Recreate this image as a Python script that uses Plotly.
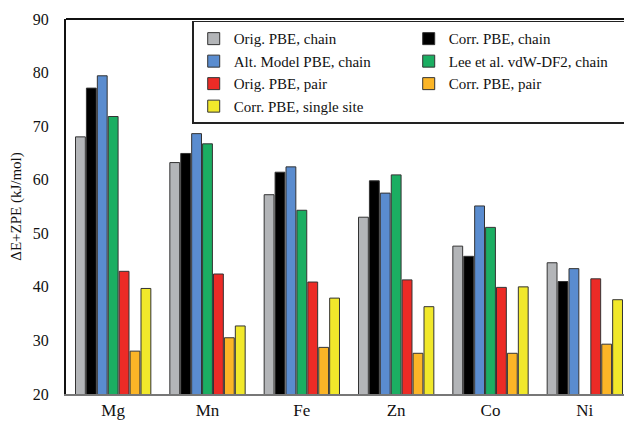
import plotly.graph_objects as go

metals = ["Mg", "Mn", "Fe", "Zn", "Co", "Ni"]

orig_pbe_chain = [68.0, 63.2, 57.2, 53.0, 47.6, 44.5]
corr_pbe_chain = [77.1, 64.9, 61.4, 59.8, 45.7, 41.0]
alt_model_chain = [79.4, 68.6, 62.4, 57.5, 55.1, 43.4]
lee_vdw_chain = [71.8, 66.7, 54.3, 60.9, 51.1, None]
orig_pbe_pair = [42.9, 42.4, 40.9, 41.3, 39.9, 41.5]
corr_pbe_pair = [28.0, 30.5, 28.7, 27.6, 27.6, 29.3]
corr_pbe_single = [39.7, 32.7, 37.9, 36.3, 40.0, 37.6]

series = [
    ("Orig. PBE, chain", orig_pbe_chain, "#b3b5b8"),
    ("Corr. PBE, chain", corr_pbe_chain, "#000000"),
    ("Alt. Model PBE, chain", alt_model_chain, "#5a8ccf"),
    ("Lee et al. vdW-DF2, chain", lee_vdw_chain, "#1bae62"),
    ("Orig. PBE, pair", orig_pbe_pair, "#ec2b26"),
    ("Corr. PBE, pair", corr_pbe_pair, "#fbb527"),
    ("Corr. PBE, single site", corr_pbe_single, "#f1e82b"),
]

fig = go.Figure()
for name, vals, col in series:
    fig.add_trace(go.Bar(x=metals, y=vals, name=name, marker_color=col,
                         marker_line=dict(color="#333333", width=1)))

font = "Liberation Serif, Times New Roman, serif"
# page body has an 8px margin, so the figure is 8px smaller than the window
fig.update_layout(
    width=624, height=417,
    margin=dict(l=58, r=0, t=11, b=31),
    paper_bgcolor="white", plot_bgcolor="white",
    barmode="group", bargap=0.19, bargroupgap=0.1,
    font=dict(family=font, size=16, color="#111111"),
    legend=dict(orientation="h", x=0.223, xanchor="left", y=0.995, yanchor="top",
                entrywidth=170, bordercolor="#222222", borderwidth=1.5,
                bgcolor="white", font=dict(size=15, family=font),
                tracegroupgap=0),
    xaxis=dict(showline=True, linecolor="#777777", linewidth=2, ticks="", ticklen=0,
               tickfont=dict(size=17), automargin=False),
    yaxis=dict(range=[20, 90], dtick=10, showgrid=False, zeroline=False,
               showline=True, linecolor="#111111", linewidth=2, ticks="", ticklen=0,
               ticklabelstandoff=12, ticklabeloverflow="allow",
               tickfont=dict(size=16), automargin=False,
               title=dict(text="ΔE+ZPE (kJ/mol)", font=dict(size=15), standoff=8)),
    shapes=[dict(type="line", xref="paper", yref="paper", x0=0, x1=1, y0=1, y1=1,
                 line=dict(color="#111111", width=2))],
)

fig.write_html("out.html")
